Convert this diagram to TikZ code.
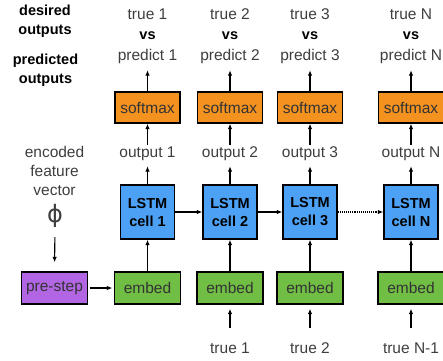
\documentclass[tikz,border=0pt]{standalone}
\usepackage{fontspec}
\setmainfont{Liberation Sans}
\newfontfamily\symfont{DejaVu Sans}
\usetikzlibrary{arrows.meta}
\definecolor{txtgray}{RGB}{62,62,62}
\definecolor{softorange}{RGB}{244,146,32}
\definecolor{cellblue}{RGB}{76,161,245}
\definecolor{embgreen}{RGB}{112,190,68}
\definecolor{prepurple}{RGB}{178,102,228}
\begin{document}
\begin{tikzpicture}[x=1pt,y=-1pt,
  reg/.style={font=\fontsize{15.5}{18}\selectfont, text=txtgray, inner sep=0pt, text height=11pt, text depth=3pt},
  bld/.style={font=\fontsize{14.5}{18}\selectfont\bfseries, text=black, inner sep=0pt, text height=11pt, text depth=3pt},
  box/.style={draw=black, line width=1.3pt, inner sep=0pt, font=\fontsize{15.5}{18}\selectfont, text=black!80},
  softbox/.style={box, fill=softorange, minimum width=65pt, minimum height=31pt},
  cellbox/.style={box, fill=cellblue, minimum width=54pt, minimum height=54pt, align=center, font=\fontsize{14.5}{18}\selectfont\bfseries, text=black},
  embbox/.style={box, fill=embgreen, minimum width=66pt, minimum height=32pt},
  prebox/.style={box, fill=prepurple, minimum width=66pt, minimum height=32pt},
  arr/.style={-{Latex[length=5.5pt,width=4.5pt]}, line width=1.1pt, black}
]
\useasboundingbox (0,0) rectangle (443,360);

% row labels on the left
\node[bld] (d1) at (45,11) {desired};
\node[bld] (d2) at (45,30) {outputs};
\node[bld] (p1) at (45.5,60) {predicted};
\node[bld] (p2) at (45.5,79) {outputs};

% input branch
\node[reg] (enc1) at (54.5,153) {encoded};
\node[reg] (enc2) at (54.5,172) {feature};
\node[reg] (enc3) at (54.5,191) {vector};
\node[reg, font=\fontsize{24}{26}\selectfont\symfont, text height=16pt, text depth=2pt] (phi) at (55,215) {ϕ};
\node[prebox] (pre) at (54.5,288) {pre-step};

% column 1
\node[reg] (t1) at (147.5,15) {true 1};
\node[bld] (v1) at (147.5,35) {vs};
\node[reg] (pr1) at (147.5,56) {predict 1};
\node[softbox] (s1) at (147.5,107.5) {softmax};
\node[reg] (o1) at (147.5,153) {output 1};
\node[cellbox] (c1) at (147.5,212) {LSTM\\cell 1};
\node[embbox] (e1) at (147.5,288) {embed};

% column 2
\node[reg] (t2) at (230,15) {true 2};
\node[bld] (v2) at (230,35) {vs};
\node[reg] (pr2) at (230,56) {predict 2};
\node[softbox] (s2) at (230,107.5) {softmax};
\node[reg] (o2) at (230,153) {output 2};
\node[cellbox] (c2) at (230,212) {LSTM\\cell 2};
\node[embbox] (e2) at (230,288) {embed};
\node[reg] (b2) at (230,349) {true 1};

% column 3
\node[reg] (t3) at (310,15) {true 3};
\node[bld] (v3) at (310,35) {vs};
\node[reg] (pr3) at (310,56) {predict 3};
\node[softbox] (s3) at (310,107.5) {softmax};
\node[reg] (o3) at (310,153) {output 3};
\node[cellbox] (c3) at (310,212) {LSTM\\cell 3};
\node[embbox] (e3) at (310,288) {embed};
\node[reg] (b3) at (310,349) {true 2};

% column N
\node[reg] (tN) at (411,15) {true N};
\node[bld] (vN) at (411,35) {vs};
\node[reg] (prN) at (411,56) {predict N};
\node[softbox] (sN) at (411,107.5) {softmax};
\node[reg] (oN) at (411,153) {output N};
\node[cellbox] (cN) at (411,212) {LSTM\\cell N};
\node[embbox] (eN) at (411,288) {embed};
\node[reg] (bN) at (411,349) {true N-1};

% input connectors
\draw[arr, shorten <=13pt, shorten >=9pt] (phi.south) -- (pre.north);
\draw[arr, shorten <=1.5pt, shorten >=1.5pt] (pre.east) -- (e1.west);

% vertical flow in every column
\foreach \c in {1,2,3,N}{
  \draw[arr] (e\c.north) -- (c\c.south);
  \draw[arr, shorten >=6pt] (c\c.north) -- (o\c.south);
  \draw[arr, shorten <=1pt] (o\c.north) -- (s\c.south);
  \draw[arr, shorten >=7pt] (s\c.north) -- (pr\c.south);
}
\foreach \c in {2,3,N}{
  \draw[arr, shorten <=14pt, shorten >=4pt] (b\c.north) -- (e\c.south);
}

% recurrent connections
\draw[arr] (c1.east) -- (c2.west);
\draw[arr] (c2.east) -- (c3.west);
\draw[arr, densely dotted] (c3.east) -- (cN.west);
\end{tikzpicture}
\end{document}
